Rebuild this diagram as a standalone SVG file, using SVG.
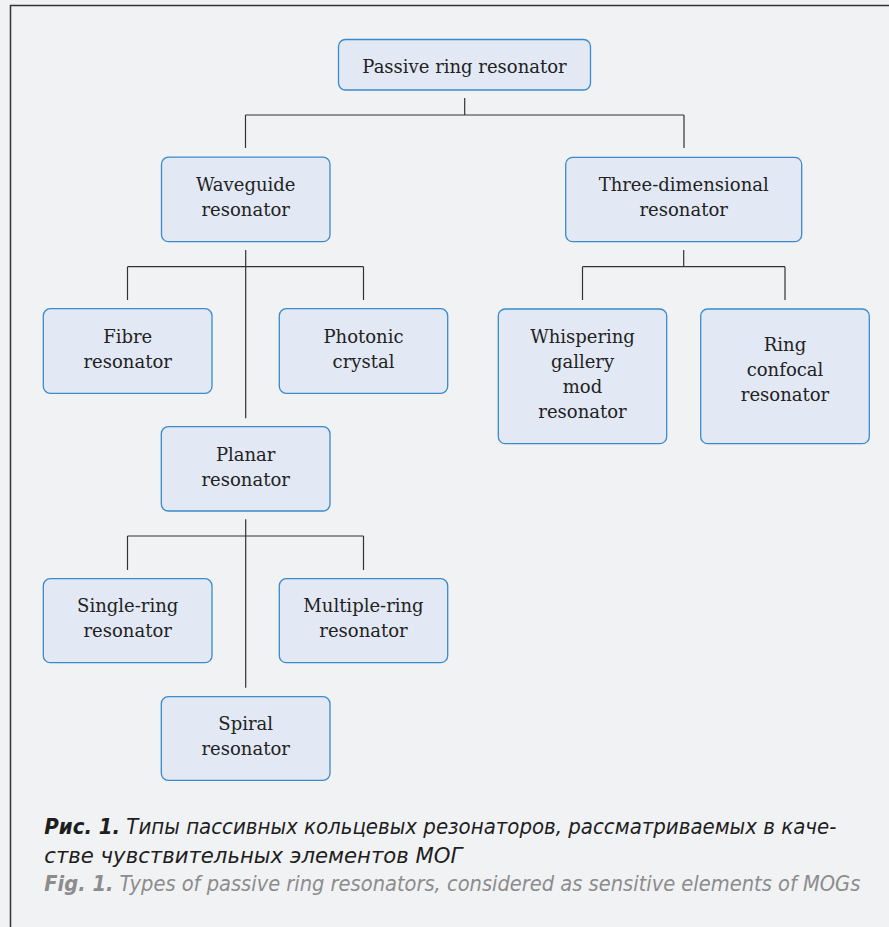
<svg xmlns="http://www.w3.org/2000/svg" width="889" height="927" viewBox="0 0 889 927">
<style>
.node rect{fill:#e2e9f5;stroke:#3a8bcb;stroke-width:1.3}
.node text{font-family:"DejaVu Serif","Liberation Serif",serif;font-size:18px;fill:#222;text-anchor:middle}
.conn path{fill:none;stroke:#333;stroke-width:1.2}
.cap{font-family:"DejaVu Sans","Liberation Sans",sans-serif;font-size:22px;font-style:italic;font-stretch:condensed}
</style>
<rect x="0" y="0" width="889" height="927" fill="#f1f2f4"/>
<path d="M10.5 927 V5.5 H889" fill="none" stroke="#333" stroke-width="1.5"/>
<g class="conn" id="connectors">
<path d="M464.7 98 V115 M245.5 115 H684 M245.5 115 V148 M684 115 V148"/>
<path d="M245.7 250 V418.3 M127.5 266.7 H363.5 M127.5 266.7 V300 M363.5 266.7 V300"/>
<path d="M683.7 250 V266.7 M582.5 266.7 H785 M582.5 266.7 V300 M785 266.7 V300"/>
<path d="M245.7 519.3 V687.7 M127.5 536 H363.5 M127.5 536 V570 M363.5 536 V570"/>
</g>
<g class="node" id="passive"><rect x="338.5" y="39.5" width="252" height="50.5" rx="7"/><text x="464.5" y="73">Passive ring resonator</text></g>
<g class="node" id="waveguide"><rect x="161.5" y="157.2" width="168.5" height="84.5" rx="7"/><text x="245.7" y="191">Waveguide</text><text x="245.7" y="216">resonator</text></g>
<g class="node" id="threedim"><rect x="565.7" y="157.3" width="236" height="84.4" rx="7"/><text x="683.7" y="191">Three-dimensional</text><text x="683.7" y="216">resonator</text></g>
<g class="node" id="fibre"><rect x="43.3" y="308.7" width="168.7" height="84.6" rx="7"/><text x="127.7" y="343">Fibre</text><text x="127.7" y="368">resonator</text></g>
<g class="node" id="photonic"><rect x="279.3" y="308.7" width="168.4" height="84.6" rx="7"/><text x="363.5" y="343">Photonic</text><text x="363.5" y="368">crystal</text></g>
<g class="node" id="whispering"><rect x="498.3" y="309" width="168.4" height="134.7" rx="7"/><text x="582.5" y="343">Whispering</text><text x="582.5" y="368">gallery</text><text x="582.5" y="392.5">mod</text><text x="582.5" y="417.5">resonator</text></g>
<g class="node" id="confocal"><rect x="700.7" y="309" width="168.6" height="134.7" rx="7"/><text x="785" y="351">Ring</text><text x="785" y="376">confocal</text><text x="785" y="401">resonator</text></g>
<g class="node" id="planar"><rect x="161.3" y="426.7" width="168.7" height="84.3" rx="7"/><text x="245.7" y="461">Planar</text><text x="245.7" y="486">resonator</text></g>
<g class="node" id="single"><rect x="43.3" y="578.7" width="168.7" height="84" rx="7"/><text x="127.7" y="612">Single-ring</text><text x="127.7" y="637">resonator</text></g>
<g class="node" id="multiple"><rect x="279.3" y="578.7" width="168.4" height="84" rx="7"/><text x="363.5" y="612">Multiple-ring</text><text x="363.5" y="637">resonator</text></g>
<g class="node" id="spiral"><rect x="161.3" y="696.7" width="168.7" height="83.6" rx="7"/><text x="245.7" y="730">Spiral</text><text x="245.7" y="755">resonator</text></g>
<g id="caption">
<text class="cap" x="44.3" y="834.3" fill="#1e1e1e" textLength="792" lengthAdjust="spacingAndGlyphs"><tspan font-weight="bold">Рис. 1.</tspan> Типы пассивных кольцевых резонаторов, рассматриваемых в каче-</text>
<text class="cap" x="44.3" y="862.7" fill="#1e1e1e" textLength="418" lengthAdjust="spacingAndGlyphs">стве чувствительных элементов МОГ</text>
<text class="cap" x="44.3" y="890.7" fill="#8c8c8c" textLength="816" lengthAdjust="spacingAndGlyphs"><tspan font-weight="bold">Fig. 1.</tspan> Types of passive ring resonators, considered as sensitive elements of MOGs</text>
</g>
</svg>
